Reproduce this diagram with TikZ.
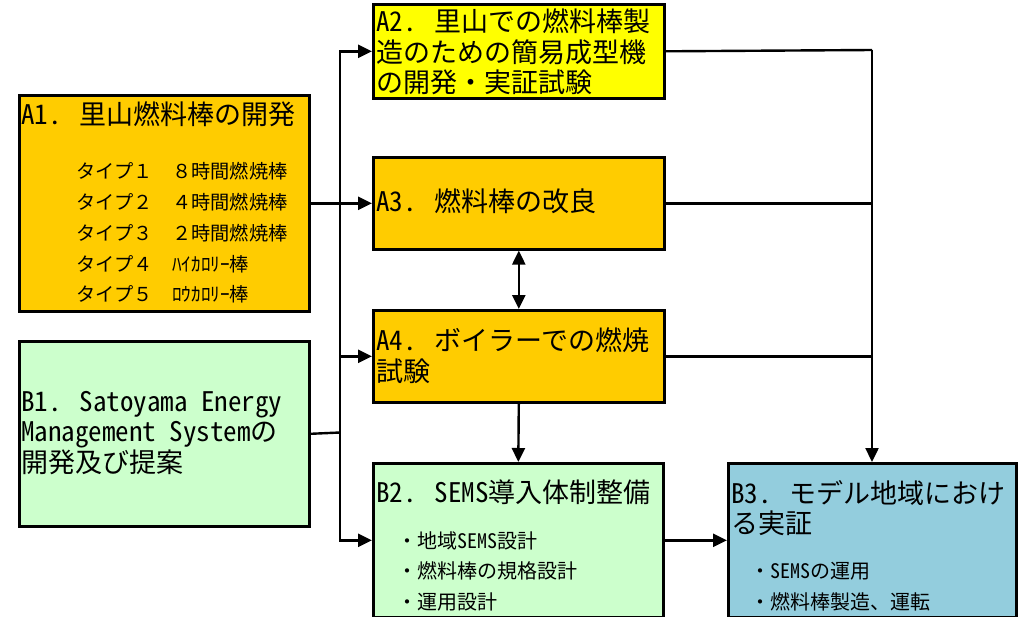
\documentclass[tikz,border=0pt]{standalone}
\usepackage{fontspec}
\setmainfont{Noto Sans CJK JP}[RawFeature=+hwid]
\newfontfamily\fwfont{Noto Sans CJK JP}
\usetikzlibrary{arrows.meta}
\definecolor{orangeA}{HTML}{FFCC00}
\definecolor{yellowA}{HTML}{FFFF00}
\definecolor{greenB}{HTML}{CCFFCC}
\definecolor{blueB}{HTML}{93CDDD}
\tikzset{
  box/.style={draw=black, line width=2.6pt, rectangle, inner sep=0pt, anchor=north west},
  bigtext/.style={font=\fontsize{27}{30.5}\selectfont, anchor=north west, align=left, inner sep=0pt},
  smalltext/.style={font=\fwfont\fontsize{19.2}{30.7}\selectfont, anchor=north west, align=left, inner sep=0pt},
  itemtext/.style={font=\fontsize{20}{30.5}\selectfont, anchor=north west, align=left, inner sep=0pt},
  conn/.style={line width=2.4pt},
  arr/.style={conn, -{Triangle[length=14pt,width=13pt]}},
  darr/.style={conn, {Triangle[length=14pt,width=13pt]}-{Triangle[length=14pt,width=13pt]}},
}
\begin{document}
\begin{tikzpicture}[x=1pt,y=-1pt]
\useasboundingbox (0,0) rectangle (1027,616);
% boxes
\node[box, fill=orangeA, minimum width=290pt, minimum height=216pt] (A1) at (18,94) {};
\node[box, fill=yellowA, minimum width=291pt, minimum height=94pt] (A2) at (372,3) {};
\node[box, fill=orangeA, minimum width=291pt, minimum height=92pt] (A3) at (372,156) {};
\node[box, fill=orangeA, minimum width=291pt, minimum height=92pt] (A4) at (372,309) {};
\node[box, fill=greenB, minimum width=290pt, minimum height=185pt] (B1) at (18,340) {};
\node[box, fill=greenB, minimum width=290pt, minimum height=154pt] (B2) at (372,462) {};
\node[box, fill=blueB, minimum width=288pt, minimum height=154pt] (B3) at (727,462) {};
% texts
\node[bigtext] (tA1) at (21,101.5) {A1. 里山燃料棒の開発};
\node[smalltext] (tA1i) at (76,162.5) {タイプ１　８時間燃焼棒\\タイプ２　４時間燃焼棒\\タイプ３　２時間燃焼棒\\タイプ４　ﾊｲｶﾛﾘｰ棒\\タイプ５　ﾛｳｶﾛﾘｰ棒};
\node[bigtext] (tA2) at (376,8.5) {A2. 里山での燃料棒製\\造のための簡易成型機\\の開発・実証試験};
\node[bigtext] (tA3) at (376,188.5) {A3. 燃料棒の改良};
\node[bigtext] (tA4) at (376,327.5) {A4. ボイラーでの燃焼\\試験};
\node[bigtext] (tB1) at (21,391) {B1. Satoyama Energy\\Management Systemの\\開発及び提案};
\node[bigtext] (tB2) at (376,480) {B2. SEMS導入体制整備};
\node[itemtext] (tB2i) at (397,531) {・地域SEMS設計\\・燃料棒の規格設計\\・運用設計};
\node[bigtext] (tB3) at (731,480) {B3. モデル地域におけ\\る実証};
\node[itemtext] (tB3i) at (750,562) {・SEMSの運用\\・燃料棒製造、運転};
% connectors
\coordinate (trunk) at (340,432.5);
\coordinate (rtrunk) at (872,50);
\draw[arr] (A1.east) -- (A3.west);
\draw[conn] (B1.east) -- (trunk);
\draw[arr] (trunk) |- (A2.west);
\draw[arr] (trunk) |- (A4.west);
\draw[arr] (trunk) |- (B2.west);
\draw[darr] (A3.south) -- (A4.north);
\draw[arr] (A4.south) -- (B2.north);
\draw[arr] (B2.east) -- (B3.west);
\draw[conn] (A2.east) -- (rtrunk);
\draw[arr] (rtrunk) -- (rtrunk |- B3.north);
\draw[conn] (A3.east) -- (A3.east -| rtrunk);
\draw[conn] (A4.east) -- (A4.east -| rtrunk);
\end{tikzpicture}
\end{document}
